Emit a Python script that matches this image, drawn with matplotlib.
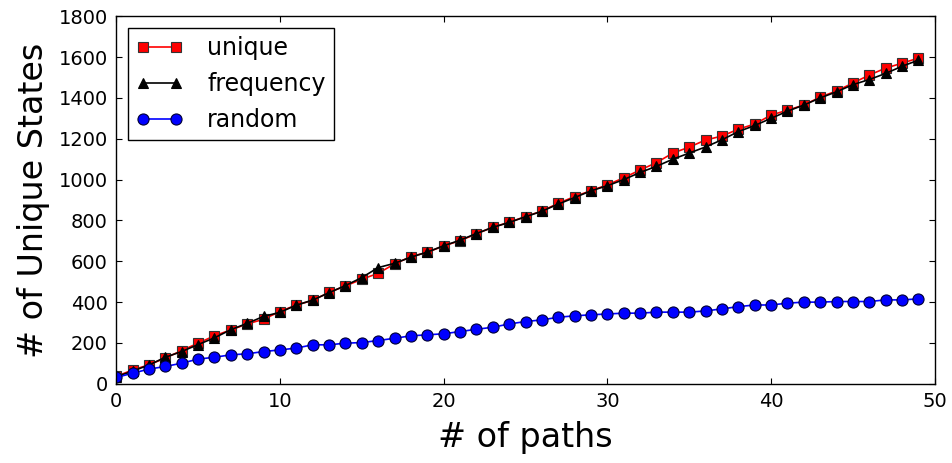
import matplotlib
matplotlib.use("Agg")
import matplotlib.pyplot as plt

paths = list(range(50))
unique = [36, 68, 93, 126, 163, 199, 235, 264, 293, 316,
          354, 386, 408, 448, 479, 512, 541, 587, 623, 644,
          675, 701, 734, 767, 791, 819, 846, 884, 917, 946,
          974, 1009, 1047, 1083, 1130, 1159, 1194, 1213, 1247, 1272,
          1316, 1340, 1365, 1404, 1434, 1473, 1512, 1546, 1570, 1595]
frequency = [35, 62, 92, 130, 158, 192, 225, 265, 296, 330,
             350, 385, 410, 446, 481, 520, 569, 590, 620, 645,
             676, 703, 736, 766, 790, 818, 845, 880, 912, 945,
             970, 1000, 1035, 1065, 1100, 1130, 1160, 1195, 1235, 1265,
             1300, 1335, 1365, 1400, 1430, 1465, 1490, 1520, 1555, 1585]
random_ = [31, 52, 72, 85, 101, 121, 130, 142, 147, 158,
           166, 175, 191, 191, 199, 202, 212, 223, 235, 240,
           245, 256, 267, 277, 293, 305, 313, 326, 333, 338,
           342, 346, 346, 351, 351, 351, 357, 367, 378, 386,
           386, 395, 400, 400, 403, 403, 403, 411, 411, 416]

fig = plt.figure(figsize=(9.52, 4.63), dpi=100)
ax = fig.add_axes([0.122, 0.171, 0.860, 0.794])

ax.plot(paths, unique, color='red', marker='s', markersize=7.5,
        markeredgecolor='#333333', markeredgewidth=0.8, linewidth=1.2, label='unique')
ax.plot(paths, frequency, color='black', marker='^', markersize=7.5,
        markeredgecolor='black', markeredgewidth=0.8, linewidth=1.2, label='frequency')
ax.plot(paths, random_, color='blue', marker='o', markersize=8,
        markeredgecolor='#000033', markeredgewidth=0.8, linewidth=1.2, label='random')

ax.set_xlim(0, 50)
ax.set_ylim(0, 1800)
ax.set_xticks(range(0, 51, 10))
ax.set_yticks(range(0, 1801, 200))
ax.tick_params(direction='in', top=True, right=True, labelsize=14, length=4, pad=6)
for s in ax.spines.values():
    s.set_linewidth(1.0)

ax.set_xlabel('# of paths', fontsize=24, labelpad=7)
ax.set_ylabel('# of Unique States', fontsize=24, labelpad=6)

leg = ax.legend(loc='upper left', numpoints=2, fontsize=17, fancybox=False,
                edgecolor='black', framealpha=1, handlelength=2.0,
                handletextpad=1.0, borderaxespad=0.5, borderpad=0.35)
leg.get_frame().set_linewidth(1.0)

fig.savefig('out.png', dpi=100, facecolor='white')
